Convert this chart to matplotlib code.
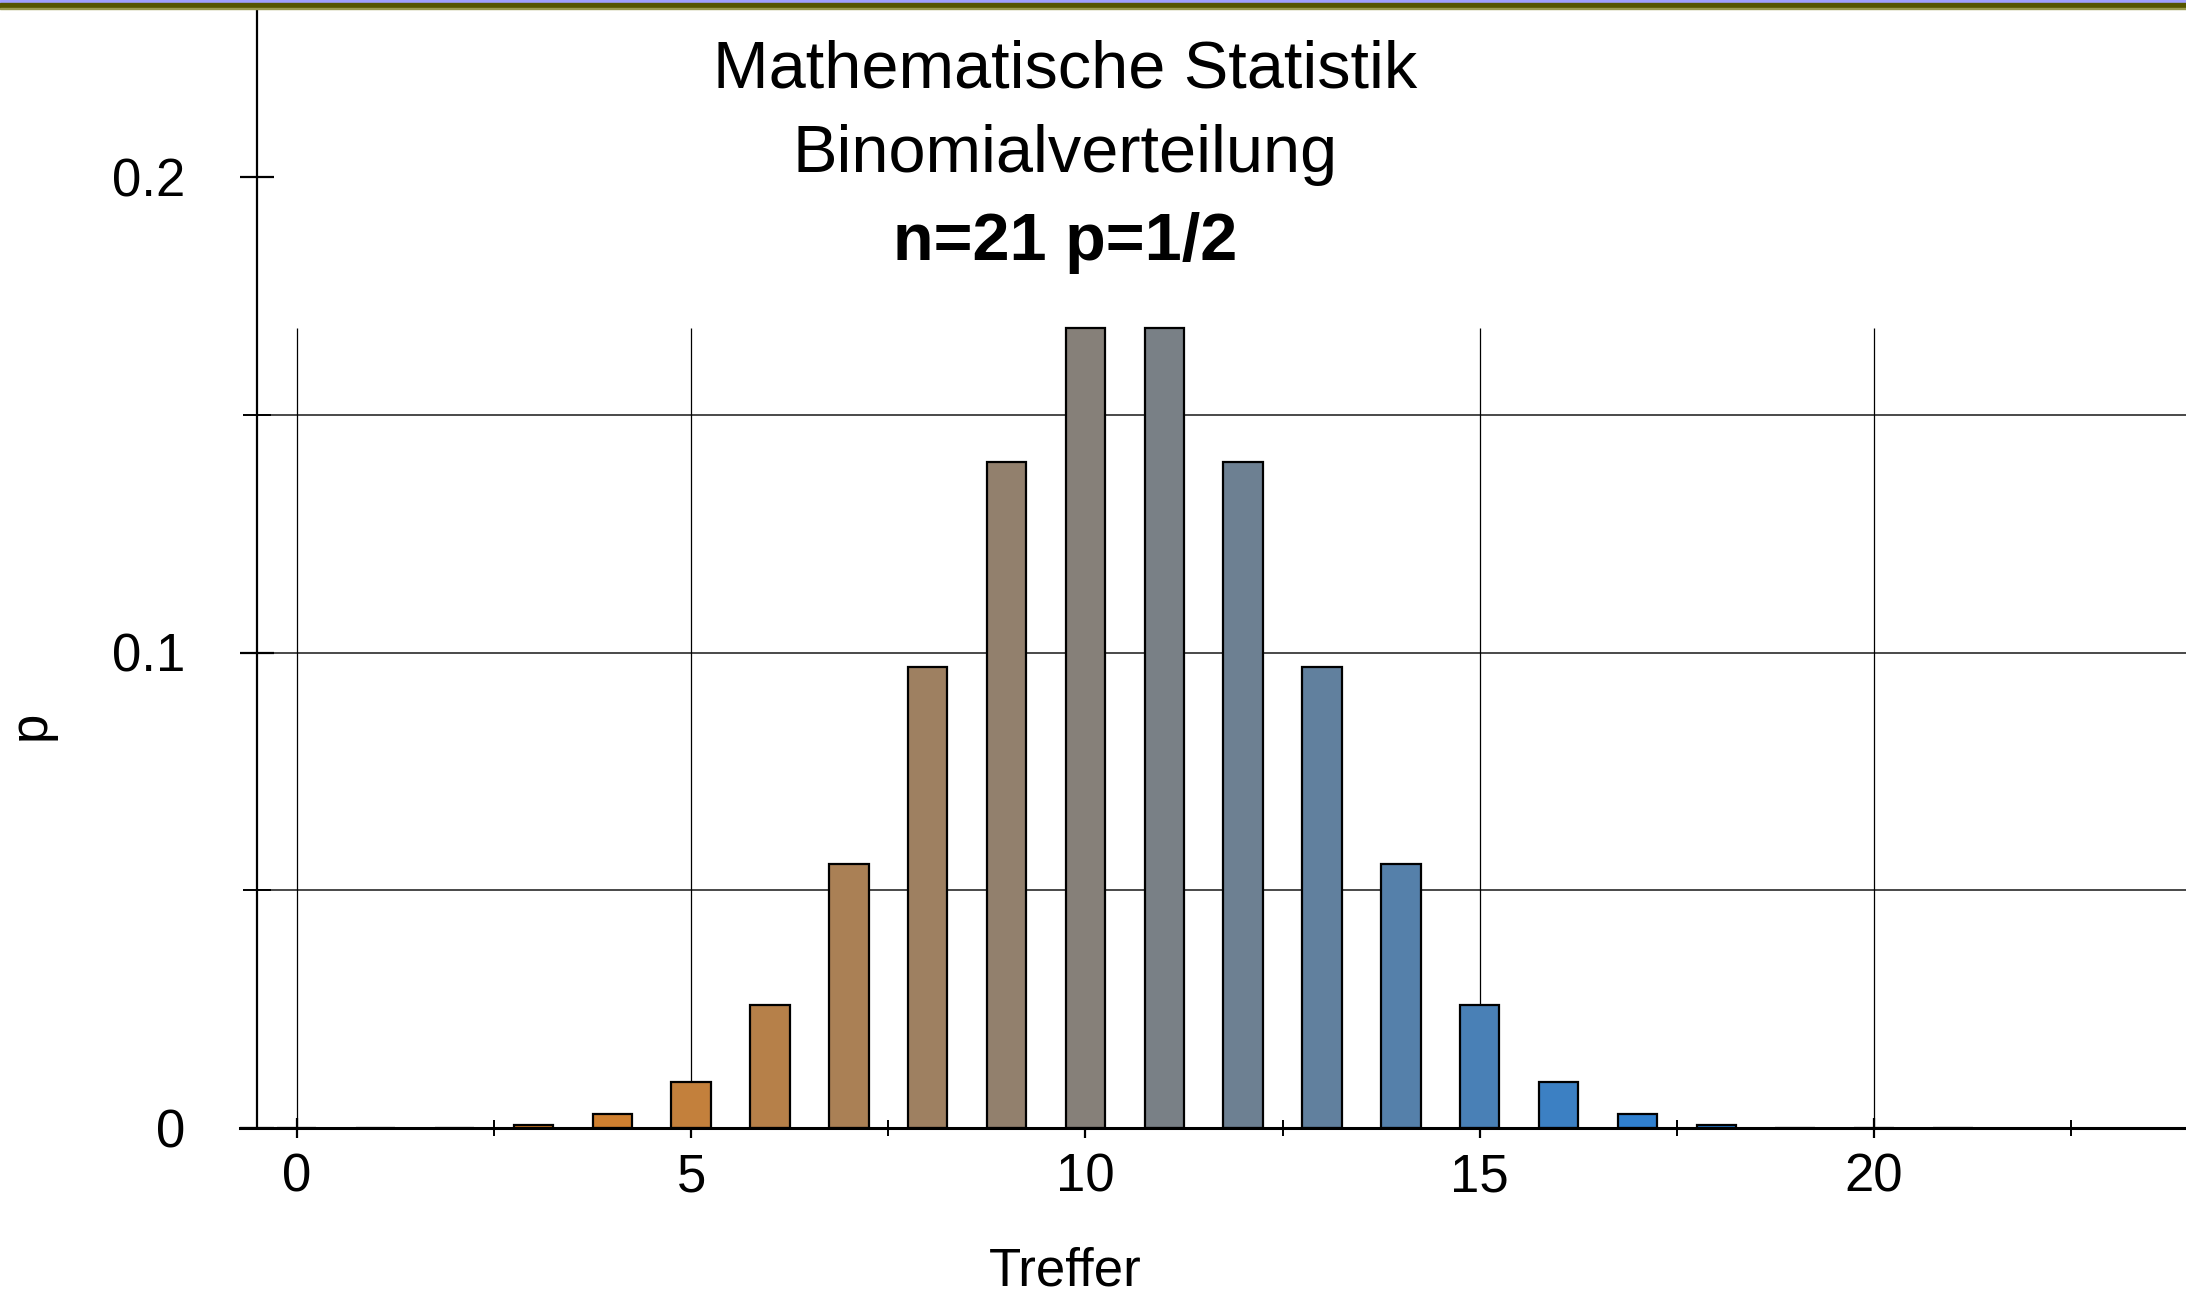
"""
Binomial distribution bar chart, n=21, p=1/2.
"""

import numpy as np
import matplotlib.pyplot as plt
from matplotlib.colors import LinearSegmentedColormap
from matplotlib.patches import Rectangle
from matplotlib.ticker import FixedLocator

plt.rcParams["font.family"] = ["Liberation Sans", "DejaVu Sans"]

# hits k and probability P(X = k)
treffer = list(range(22))
wahrscheinlichkeit = [
    0.0000005, 0.00001, 0.0001, 0.000634, 0.002854, 0.009703,
    0.025875, 0.055447, 0.097031, 0.140157, 0.168188, 0.168188,
    0.140157, 0.097031, 0.055447, 0.025875, 0.009703, 0.002854,
    0.000634, 0.0001, 0.00001, 0.0000005,
]

titel = ["Mathematische Statistik", "Binomialverteilung"]
untertitel = "n=21 p=1/2"
x_ticks = [0, 5, 10, 15, 20]
x_minor = [2.5, 7.5, 12.5, 17.5, 22.5]
y_ticks = [0, 0.1, 0.2]
y_ticklabels = ["0", "0.1", "0.2"]
y_minor = [0.05, 0.15]
y_grid = [0.05, 0.1, 0.15]

W, H = 2186, 1292


def main():
    fig = plt.figure(figsize=(W / 100, H / 100), dpi=100)
    fig.patch.set_facecolor("white")

    # ---------------------------------------------------------
    # decorative band at the top edge
    # ---------------------------------------------------------
    fig.patches.append(Rectangle((0, 1 - 3 / H), 1, 3 / H, color="#A0A0FF",
                                 transform=fig.transFigure, zorder=5))
    fig.patches.append(Rectangle((0, 1 - 8 / H), 1, 5 / H, color="#555500",
                                 transform=fig.transFigure, zorder=5))
    fig.patches.append(Rectangle((0, 1 - 9 / H), 1, 1 / H, color="#9A9A50",
                                 transform=fig.transFigure, zorder=5))

    # axes box: x-axis line at y=0 (px 1128), top at px 8
    left_px, right_px, bottom_px, top_px = 240, W, 1128, 8
    ax = fig.add_axes([left_px / W, 1 - bottom_px / H,
                       (right_px - left_px) / W, (bottom_px - top_px) / H])

    x_left = -0.72
    px_per_unit = (1874 - 240) / (20 - x_left)
    ax.set_xlim(x_left, x_left + (right_px - left_px) / px_per_unit)
    ax.set_ylim(0, (bottom_px - top_px) / 4755)

    # ---------------------------------------------------------
    # grid lines (vertical ones stop at the highest bar)
    # ---------------------------------------------------------
    ax.hlines(y_grid, -0.5, ax.get_xlim()[1], color="#3a3a3a", lw=1.3, zorder=1)
    ax.vlines(x_ticks, 0, max(wahrscheinlichkeit), color="black", lw=0.9, zorder=1)

    # bars coloured from orange (k=0) to blue (k=n)
    cmap = LinearSegmentedColormap.from_list("ob", ["#FF8000", "#0080FF"])
    farben = [cmap(k / (len(treffer) - 1)) for k in treffer]
    ax.bar(treffer, wahrscheinlichkeit, width=0.5, color=farben,
           edgecolor="black", linewidth=1.6, zorder=3)

    # ---------------------------------------------------------
    # spines and ticks
    # ---------------------------------------------------------
    for side in ("top", "right"):
        ax.spines[side].set_visible(False)
    ax.spines["left"].set_position(("data", -0.5))
    ax.spines["left"].set_linewidth(1.6)
    ax.spines["bottom"].set_linewidth(2.2)
    ax.spines["left"].set_zorder(4)
    ax.spines["bottom"].set_zorder(4)

    ax.xaxis.set_major_locator(FixedLocator(x_ticks))
    ax.xaxis.set_minor_locator(FixedLocator(x_minor))
    ax.yaxis.set_major_locator(FixedLocator(y_ticks))
    ax.yaxis.set_minor_locator(FixedLocator(y_minor))
    ax.set_yticklabels(y_ticklabels)

    ax.tick_params(axis="x", which="major", direction="inout", length=15,
                   width=1.6, labelsize=38, pad=10)
    ax.tick_params(axis="x", which="minor", direction="inout", length=11,
                   width=1.4)
    ax.tick_params(axis="y", which="major", direction="inout", length=24,
                   width=1.6, labelsize=38, pad=40)
    ax.tick_params(axis="y", which="minor", direction="inout", length=20,
                   width=1.4)

    # ---------------------------------------------------------
    # texts
    # ---------------------------------------------------------
    cx = 1065 / W
    fig.text(cx, 1 - 88 / H, titel[0], ha="center", va="baseline", fontsize=48)
    fig.text(cx, 1 - 172 / H, titel[1], ha="center", va="baseline", fontsize=48)
    fig.text(cx, 1 - 260 / H, untertitel, ha="center", va="baseline",
             fontsize=48, fontweight="bold")
    fig.text(cx, 1 - 1285 / H, "Treffer", ha="center", va="baseline", fontsize=38)
    fig.text(31 / W, 1 - 725 / H, "p", ha="center", va="center",
             rotation=90, fontsize=38)

    fig.savefig("out.png", dpi=100)


if __name__ == "__main__":
    main()
